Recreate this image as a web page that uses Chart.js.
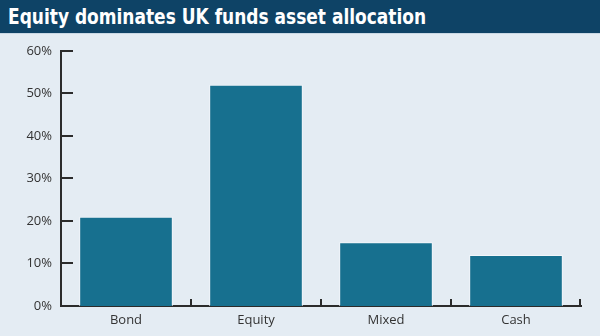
<!DOCTYPE html>
<html>
<head>
<meta charset="utf-8">
<script src="https://cdn.jsdelivr.net/npm/chart.js@4/dist/chart.umd.min.js"></script>
<style>
  html, body { margin: 0; padding: 0; background: #e4ecf3; }
  #wrap { width: 600px; height: 336px; position: relative; }
  #title {
    height: 34px; background: #0e4366; color: #fff;
    font-family: "DejaVu Sans Condensed", "Liberation Sans Narrow", sans-serif;
    font-weight: bold; font-size: 22px; line-height: 34px; padding-left: 8px;
    border-bottom: 1px solid #c9d8e4; box-sizing: border-box; overflow: hidden;
  }
  #title span { display: inline-block; transform: scaleX(0.86); transform-origin: 0 50%; white-space: nowrap; }
  #box { width: 600px; height: 302px; }
</style>
</head>
<body>
<div id="wrap">
  <div id="title"><span>Equity dominates UK funds asset allocation</span></div>
  <div id="box"><canvas id="allocChart" width="600" height="302"></canvas></div>
</div>
<script>
const categories = ['Bond', 'Equity', 'Mixed', 'Cash'];
const shares = [21, 52, 15, 12];
const yTicks = [0, 10, 20, 30, 40, 50, 60];

const axisColour = '#2b2b2b';

// short inward tick marks: y ticks point right, x ticks sit on category boundaries and point up
const innerTicks = {
  id: 'innerTicks',
  afterDraw(chart) {
    const ctx = chart.ctx;
    const x = chart.scales.x, y = chart.scales.y;
    const area = chart.chartArea;
    ctx.save();
    ctx.strokeStyle = axisColour;
    ctx.lineWidth = 2;
    ctx.beginPath();
    yTicks.forEach(v => {
      const py = Math.round(y.getPixelForValue(v));
      ctx.moveTo(area.left, py);
      ctx.lineTo(area.left + 12, py);
    });
    const step = x.getPixelForValue(1) - x.getPixelForValue(0);
    categories.forEach((c, i) => {
      const edge = Math.min(Math.round(x.getPixelForValue(i) + step / 2), area.right - 1);
      ctx.moveTo(edge, area.bottom);
      ctx.lineTo(edge, area.bottom - 7);
    });
    ctx.stroke();
    ctx.restore();
  }
};

new Chart(document.getElementById('allocChart'), {
  type: 'bar',
  data: {
    labels: categories,
    datasets: [{
      data: shares,
      backgroundColor: '#17708f',
      borderColor: '#f2f6fa',
      borderWidth: 1,
      categoryPercentage: 1,
      barPercentage: 0.72
    }]
  },
  options: {
    responsive: false,
    animation: false,
    devicePixelRatio: 1,
    layout: { padding: { top: 16, right: 19, left: 0, bottom: 0 } },
    plugins: { legend: { display: false }, tooltip: { enabled: false } },
    scales: {
      x: {
        grid: { display: false, tickLength: 0 },
        border: { display: true, color: axisColour, width: 2 },
        ticks: { color: '#333', font: { family: 'Open Sans', size: 13 }, padding: 6 },
        afterFit(scale) { scale.height = 30; }
      },
      y: {
        min: 0, max: 60,
        grid: { display: false, tickLength: 0 },
        border: { display: true, color: axisColour, width: 2 },
        ticks: {
          stepSize: 10, color: '#333', padding: 9,
          font: { family: 'Open Sans', size: 13 },
          callback: v => v + '%'
        },
        afterFit(scale) { scale.width = 61; }
      }
    }
  },
  plugins: [innerTicks]
});
</script>
</body>
</html>
